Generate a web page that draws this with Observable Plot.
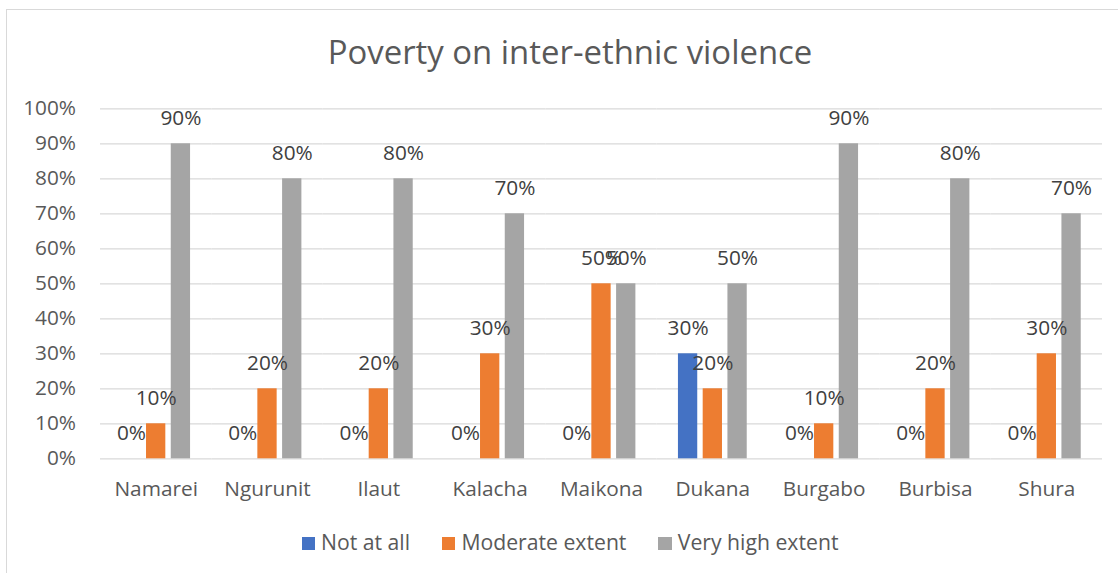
<!DOCTYPE html>
<html>
<head>
<meta charset="utf-8">
<script src="https://cdn.jsdelivr.net/npm/d3@7"></script>
<script src="https://cdn.jsdelivr.net/npm/@observablehq/plot@0.6"></script>
<style>
  html, body { margin: 0; padding: 0; background: #fff; }
  #wrap { position: relative; width: 1118px; height: 573px; overflow: hidden; font-family: 'Open Sans', sans-serif; }
  #frame { position: absolute; left: 6px; top: 9px; width: 1200px; height: 700px; border: 1.3px solid #D9D9D9; box-sizing: border-box; }
  #title { position: absolute; left: 0; width: 1140px; top: 36px; text-align: center; font-size: 32.9px; line-height: 32.9px; color: #595959; z-index: 2; white-space: nowrap; }
  #legend { position: absolute; left: 0; width: 1140px; top: 531px; display: flex; justify-content: center; font-size: 21.2px; line-height: 21.2px; color: #595959; z-index: 2; white-space: nowrap; }
  #legend .item { margin: 0 16px; }
  #legend .sw { display: inline-block; width: 13.4px; height: 13.4px; margin-right: 6px; vertical-align: baseline; }
  #chart { position: absolute; left: 0; top: 0; z-index: 1; }
</style>
</head>
<body>
<div id="wrap">
  <div id="frame"></div>
  <div id="chart"></div>
  <div id="title"></div>
  <div id="legend"></div>
</div>
<script>
const titleText = "Poverty on inter-ethnic violence";
const categories = ["Namarei", "Ngurunit", "Ilaut", "Kalacha", "Maikona", "Dukana", "Burgabo", "Burbisa", "Shura"];
const series = ["Not at all", "Moderate extent", "Very high extent"];
const colors = ["#4472C4", "#ED7D31", "#A5A5A5"];
const notAtAll = [0, 0, 0, 0, 0, 0.3, 0, 0, 0];
const moderateExtent = [0.1, 0.2, 0.2, 0.3, 0.5, 0.2, 0.1, 0.2, 0.3];
const veryHighExtent = [0.9, 0.8, 0.8, 0.7, 0.5, 0.5, 0.9, 0.8, 0.7];
const yTicks = [0, 0.1, 0.2, 0.3, 0.4, 0.5, 0.6, 0.7, 0.8, 0.9, 1.0];

const valuesBySeries = [notAtAll, moderateExtent, veryHighExtent];
const data = [];
categories.forEach((c, i) => {
  series.forEach((s, j) => {
    data.push({category: c, series: s, value: valuesBySeries[j][i]});
  });
});

const pct = d3.format(".0%");

const chart = Plot.plot({
  width: 1118,
  height: 573,
  marginLeft: 100,
  marginRight: 16,
  marginTop: 108.3,
  marginBottom: 114.7,
  style: {fontFamily: "'Open Sans', sans-serif", fontSize: "20.8px", color: "#595959", background: "transparent", overflow: "visible"},
  fx: {domain: categories, padding: 0, round: false, label: null},
  x: {domain: series, paddingInner: 0.22, paddingOuter: 0.86, round: false, axis: null},
  y: {domain: [0, 1], label: null},
  color: {domain: series, range: colors},
  marks: [
    Plot.gridY(yTicks, {stroke: "#D9D9D9", strokeOpacity: 1, strokeWidth: 1.3}),
    Plot.axisY(yTicks, {tickSize: 0, tickPadding: 24.5, tickFormat: pct, fill: "#595959", fontSize: 20.8, label: null}),
    Plot.axisFx({anchor: "bottom", tickSize: 0, tickPadding: 22, fill: "#595959", fontSize: 20.8, label: null}),
    Plot.barY(data, {fx: "category", x: "series", y: "value", fill: "series"}),
    Plot.text(data, {fx: "category", x: "series", y: "value", text: d => pct(d.value), dy: -25, lineAnchor: "middle", fill: "#404040", fontSize: 20.8})
  ]
});
document.getElementById("chart").appendChild(chart);

document.getElementById("title").textContent = titleText;
const legend = d3.select("#legend");
series.forEach((s, j) => {
  const item = legend.append("span").attr("class", "item");
  item.append("span").attr("class", "sw").style("background", colors[j]);
  item.append("span").text(s);
});
</script>
</body>
</html>
